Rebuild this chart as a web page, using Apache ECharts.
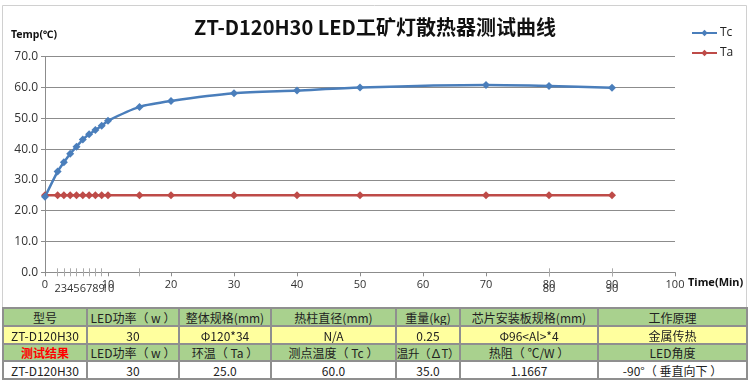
<!DOCTYPE html>
<html>
<head>
<meta charset="utf-8">
<script src="https://cdn.jsdelivr.net/npm/echarts@6/dist/echarts.min.js"></script>
<style>
html,body{margin:0;padding:0;background:#fff;}
#chart{position:absolute;left:0;top:0;width:750px;height:383px;}
#table{position:absolute;left:0;top:0;width:750px;height:383px;pointer-events:none;}
.cell{position:absolute;box-sizing:border-box;border:2px solid #8f8f8f;display:flex;align-items:center;justify-content:center;font-family:"Noto Sans CJK SC","Noto Sans",sans-serif;font-size:12px;color:#222;white-space:nowrap;overflow:hidden;}
</style>
</head>
<body>
<div id="chart"></div>
<div id="table"></div>
<script>
// ---- data ----
const timeMin = [0, 2, 3, 4, 5, 6, 7, 8, 9, 10, 15, 20, 30, 40, 50, 70, 80, 90];
const tcValues = [24.5, 32.7, 35.7, 38.5, 40.8, 43.1, 44.8, 46.2, 47.6, 49.2, 53.7, 55.6, 58.1, 59.0, 60.0, 60.8, 60.5, 59.9];
const taValues = [25.0, 25.0, 25.0, 25.0, 25.0, 25.0, 25.0, 25.0, 25.0, 25.0, 25.0, 25.0, 25.0, 25.0, 25.0, 25.0, 25.0, 25.0];
const seriesNames = ['Tc', 'Ta'];
const extraTickValues = [2, 3, 4, 5, 6, 7, 8, 9, 15, 80, 90];
const extraLabelValues = [2, 3, 4, 5, 6, 7, 8, 9, 10, 80, 90];
const titleText = 'ZT-D120H30 LED工矿灯散热器测试曲线';
const yName = 'Temp(℃)';
const xName = 'Time(Min)';

const tableRow1 = ['型号', 'LED功率（ w ）', '整体规格(mm)', '热柱直径(mm)', '重量(kg)', '芯片安装板规格(mm)', '工作原理'];
const tableRow2 = ['ZT-D120H30', '30', 'Φ120*34', 'N/A', '0.25', 'Φ96<Al>*4', '金属传热'];
const tableRow3 = ['测试结果', 'LED功率（ w ）', '环温（ Ta ）', '测点温度（ Tc ）', '温升（∆T）', '热阻（ ℃/W ）', 'LED角度'];
const tableRow4 = ['ZT-D120H30', '30', '25.0', '60.0', '35.0', '1.1667', '-90°（ 垂直向下 ）'];

// ---- chart ----
const chart = echarts.init(document.getElementById('chart'), null, {renderer: 'canvas'});
const blue = '#4a7ebb';
const red = '#be4b48';
const gridColor = '#8c8c8c';
const pair = (xs, ys) => xs.map((x, i) => [x, ys[i]]);

chart.setOption({
  animation: false,
  backgroundColor: '#fff',
  title: {
    text: titleText, left: 'center', top: 12,
    textStyle: {fontFamily: '"Noto Sans CJK SC", sans-serif', fontSize: 20, fontWeight: 'bold', color: '#111'}
  },
  legend: {
    orient: 'vertical', left: 686, top: 22, itemGap: 8, itemWidth: 25, itemHeight: 8,
    data: seriesNames,
    textStyle: {fontFamily: '"Open Sans", sans-serif', fontSize: 12, color: '#222', padding: [0,0,0,-2]}
  },
  graphic: [
    {type: 'rect', shape: {x: 2.5, y: 5.5, width: 744, height: 303}, style: {fill: null, stroke: '#d0d0d0', lineWidth: 1}, z: -1},
    {type: 'text', left: 11, top: 30, style: {text: yName, fontFamily: '"Noto Sans", sans-serif', fontSize: 10.5, fontWeight: 'bold', fill: '#111'}},
    {type: 'text', left: 688, top: 277, style: {text: xName, fontFamily: '"Noto Sans", sans-serif', fontSize: 11, fontWeight: 'bold', fill: '#111'}}
  ],
  grid: {left: 45, right: 75, top: 56.7, bottom: 110.7, containLabel: false},
  xAxis: [
    {
      type: 'value', min: 0, max: 100, interval: 10,
      axisLine: {lineStyle: {color: gridColor, width: 1}},
      axisTick: {length: 4, lineStyle: {color: gridColor}},
      splitLine: {show: false},
      axisLabel: {margin: 7, fontFamily: '"Open Sans", sans-serif', fontSize: 11, color: '#333'}
    },
    {
      type: 'value', min: 0, max: 100, position: 'bottom', offset: -4,
      axisLine: {show: false},
      axisTick: {show: true, length: 8, customValues: extraTickValues, lineStyle: {color: '#aaa'}},
      splitLine: {show: false},
      axisLabel: {show: true, margin: 15, customValues: extraLabelValues, hideOverlap: false, fontFamily: '"Open Sans", sans-serif', fontSize: 11, color: '#333'}
    }
  ],
  yAxis: {
    type: 'value', min: 0, max: 70, interval: 10,
    axisLine: {show: true, lineStyle: {color: gridColor}},
    axisTick: {show: true, length: 4, lineStyle: {color: gridColor}},
    splitLine: {lineStyle: {color: gridColor, width: 1}},
    axisLabel: {margin: 7, formatter: v => v.toFixed(1), fontFamily: '"Open Sans", sans-serif', fontSize: 12, color: '#333'}
  },
  series: [
    {
      name: seriesNames[0], type: 'line', xAxisIndex: 0, data: pair(timeMin, tcValues), smooth: 0.25,
      symbol: 'diamond', symbolSize: 8, itemStyle: {color: blue},
      lineStyle: {color: blue, width: 2.5}, z: 3
    },
    {
      name: seriesNames[1], type: 'line', xAxisIndex: 0, data: pair(timeMin, taValues), smooth: false,
      symbol: 'diamond', symbolSize: 8, itemStyle: {color: red},
      lineStyle: {color: red, width: 2.5}, z: 2
    }
  ]
});

// ---- table ----
const colEdges = [3, 87, 179, 271, 396, 460, 598, 747];
const rowEdges = [308, 326, 344, 361, 379];
const rowBg = ['#a9d18e', '#ffff9e', '#a9d18e', '#ffffff'];
const rows = [tableRow1, tableRow2, tableRow3, tableRow4];
const tbl = document.getElementById('table');
rows.forEach((row, r) => {
  row.forEach((txt, c) => {
    const d = document.createElement('div');
    d.className = 'cell';
    d.style.left = (colEdges[c] - 1) + 'px';
    d.style.top = (rowEdges[r] - 1) + 'px';
    d.style.width = (colEdges[c + 1] - colEdges[c] + 2) + 'px';
    d.style.height = (rowEdges[r + 1] - rowEdges[r] + 2) + 'px';
    d.style.background = rowBg[r];
    d.textContent = txt;
    if (r === 2 && c === 0) { d.style.color = '#ff0000'; d.style.fontWeight = 'bold'; }
    if (r === 2 && c === 4) { d.style.fontSize = '11.5px'; d.style.letterSpacing = '-0.3px'; }
    tbl.appendChild(d);
  });
});
</script>
</body>
</html>
